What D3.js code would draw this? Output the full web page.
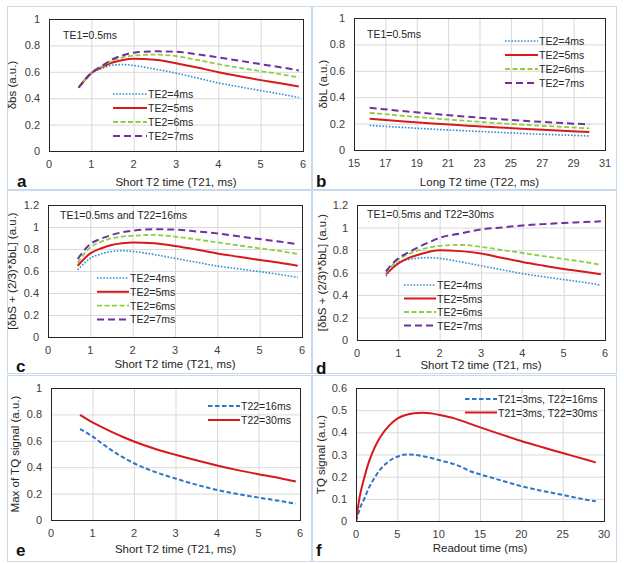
<!DOCTYPE html>
<html><head><meta charset="utf-8">
<script src="https://cdn.jsdelivr.net/npm/d3@7"></script>
<style>body{margin:0;background:#fff}svg{display:block}text{font-family:"Liberation Sans",Arial,sans-serif}</style>
</head><body><svg id="c" width="624" height="563"></svg>
<script>
// ---------- DATA ----------
const t21 = [0.7,1,1.25,1.5,1.75,2,2.5,3,3.5,4,4.5,5,5.5,5.9];
const te2Labels = ["TE2=4ms","TE2=5ms","TE2=6ms","TE2=7ms"];

const a_te4 = [0.48,0.59,0.625,0.65,0.655,0.648,0.62,0.59,0.553,0.516,0.486,0.458,0.43,0.405];
const a_te5 = [0.48,0.59,0.635,0.67,0.69,0.698,0.692,0.665,0.632,0.597,0.566,0.537,0.511,0.489];
const a_te6 = [0.48,0.59,0.64,0.685,0.71,0.723,0.73,0.719,0.69,0.658,0.63,0.605,0.58,0.557];
const a_te7 = [0.48,0.59,0.645,0.695,0.725,0.745,0.755,0.752,0.733,0.709,0.684,0.658,0.633,0.61];

const t22 = [16,18,20,22,24,26,28,30];
const b_te4 = [0.186,0.172,0.158,0.146,0.135,0.124,0.115,0.106];
const b_te5 = [0.237,0.218,0.201,0.186,0.172,0.159,0.147,0.136];
const b_te6 = [0.282,0.26,0.24,0.222,0.205,0.19,0.177,0.164];
const b_te7 = [0.32,0.296,0.274,0.254,0.236,0.22,0.206,0.194];

const c_te4 = [0.61,0.715,0.755,0.777,0.785,0.778,0.75,0.715,0.68,0.645,0.62,0.594,0.567,0.542];
const c_te5 = [0.648,0.76,0.805,0.836,0.852,0.86,0.853,0.827,0.795,0.76,0.73,0.70,0.673,0.648];
const c_te6 = [0.676,0.815,0.865,0.897,0.913,0.92,0.928,0.912,0.888,0.86,0.833,0.806,0.78,0.755];
const c_te7 = [0.709,0.845,0.893,0.927,0.952,0.967,0.98,0.976,0.96,0.942,0.916,0.89,0.866,0.842];

const d_te4 = [0.567,0.69,0.715,0.728,0.732,0.725,0.695,0.66,0.625,0.59,0.563,0.537,0.512,0.487];
const d_te5 = [0.585,0.68,0.73,0.76,0.785,0.798,0.79,0.769,0.731,0.694,0.662,0.632,0.607,0.585];
const d_te6 = [0.597,0.715,0.765,0.798,0.822,0.837,0.846,0.828,0.8,0.774,0.746,0.72,0.694,0.668];
const d_te7 = [0.611,0.727,0.78,0.828,0.87,0.908,0.947,0.982,1.0,1.018,1.03,1.04,1.048,1.055];

const e_t16 = [0.689,0.633,0.575,0.52,0.472,0.43,0.365,0.314,0.268,0.228,0.197,0.17,0.145,0.124];
const e_t30 = [0.797,0.74,0.70,0.662,0.627,0.595,0.54,0.494,0.452,0.413,0.378,0.347,0.318,0.291];

const readout = [0,0.25,0.5,1,1.5,2,2.5,3,4,5,6,7,8,9,10,12,14,16,18,20,22,24,26,28,29];
const f_t16 = [0,0.03,0.06,0.1,0.145,0.18,0.21,0.235,0.27,0.29,0.30,0.299,0.293,0.285,0.275,0.255,0.222,0.2,0.178,0.157,0.14,0.125,0.11,0.095,0.089];
const f_t30 = [0,0.065,0.12,0.195,0.26,0.31,0.35,0.382,0.43,0.462,0.478,0.486,0.488,0.486,0.479,0.462,0.436,0.41,0.385,0.361,0.339,0.317,0.296,0.275,0.264];

const xTicksT21 = [0,1,2,3,4,5,6];
const xTicksT22 = [15,17,19,21,23,25,27,29,31];
const xTicksRead = [0,5,10,15,20,25,30];
const yTicks1 = [0,0.2,0.4,0.6,0.8,1];
const yTicks12 = [0,0.2,0.4,0.6,0.8,1,1.2];
const yTicks06 = [0,0.1,0.2,0.3,0.4,0.5,0.6];

// ---------- STYLES ----------
const sty = {
  te4:{color:"#2e8fd6",w:1.6,dash:"1.6,1.6"},
  te5:{color:"#d7191c",w:2,dash:null},
  te6:{color:"#8fce3f",w:1.8,dash:"5,2.5"},
  te7:{color:"#7030a0",w:2,dash:"7,4"},
  blueDash:{color:"#2e75c6",w:2,dash:"4.5,2.5"},
  red:{color:"#d7191c",w:2,dash:null}
};

const svg = d3.select("#c");
const font = 11;

// panel frames
const frames = [[7,6,305,184],[312,6,305,184],[7,190,305,184],[312,190,305,184],[7,375,305,187],[312,375,305,187]];
frames.forEach(f=>svg.append("rect").attr("x",f[0]+0.5).attr("y",f[1]+0.5).attr("width",f[2]-1).attr("height",f[3]-1)
  .attr("fill","none").attr("stroke","#c9d9eb").attr("stroke-width",1));

function fmt(v){return (Math.round(v*10)/10).toString();}

function panel(cfg){
  const x = d3.scaleLinear().domain(cfg.xd).range([cfg.l,cfg.r]);
  const y = d3.scaleLinear().domain(cfg.yd).range([cfg.b,cfg.t]);
  const g = svg.append("g");
  g.append("g").attr("transform",`translate(0,${cfg.b})`)
   .call(d3.axisBottom(x).tickValues(cfg.xt).tickSize(-(cfg.b-cfg.t)).tickFormat(""))
   .call(s=>{s.select(".domain").remove();s.selectAll("line").attr("stroke","#d9d9d9");});
  g.append("g").attr("transform",`translate(${cfg.l},0)`)
   .call(d3.axisLeft(y).tickValues(cfg.yt).tickSize(-(cfg.r-cfg.l)).tickFormat(""))
   .call(s=>{s.select(".domain").remove();s.selectAll("line").attr("stroke","#d9d9d9");});
  g.selectAll(".xl").data(cfg.xt).join("text").attr("x",d=>x(d)).attr("y",cfg.b+17)
   .attr("text-anchor","middle").attr("font-size",font).attr("fill","#404040").text(d=>d);
  g.selectAll(".yl").data(cfg.yt).join("text").attr("x",cfg.l-9).attr("y",d=>y(d)+4)
   .attr("text-anchor","end").attr("font-size",font).attr("fill","#404040").text(fmt);
  const clipId = "clip"+cfg.id;
  svg.append("clipPath").attr("id",clipId).append("rect").attr("x",cfg.l).attr("y",cfg.t-2).attr("width",cfg.r-cfg.l).attr("height",cfg.b-cfg.t+2);
  const line = d3.line().x(d=>x(d[0])).y(d=>y(d[1])).curve(d3.curveMonotoneX);
  cfg.series.forEach(s=>{
    const pts = cfg.xs.map((xv,i)=>[xv,s.v[i]]);
    g.append("path").attr("d",line(pts)).attr("fill","none").attr("stroke",s.st.color)
     .attr("stroke-width",s.st.w).attr("stroke-dasharray",s.st.dash).attr("clip-path",`url(#${clipId})`);
  });
  g.append("rect").attr("x",cfg.l+0.5).attr("y",cfg.t+0.5).attr("width",cfg.r-cfg.l).attr("height",cfg.b-cfg.t)
   .attr("fill","none").attr("stroke","#262626").attr("stroke-width",1);
  cfg.series.forEach((s,i)=>{
    const ly = cfg.leg.y + i*cfg.leg.dy;
    g.append("line").attr("x1",cfg.leg.x1).attr("x2",cfg.leg.x2).attr("y1",ly).attr("y2",ly)
     .attr("stroke",s.st.color).attr("stroke-width",s.st.w).attr("stroke-dasharray",s.st.dash);
    g.append("text").attr("x",cfg.leg.x2+1).attr("y",ly+4).attr("font-size",10.5).attr("fill","#262626").text(s.name);
  });
  if(cfg.note) g.append("text").attr("x",cfg.note[0]).attr("y",cfg.note[1]).attr("font-size",10.5).attr("fill","#262626").text(cfg.note[2]);
  g.append("text").attr("x",(cfg.l+cfg.r)/2).attr("y",cfg.xty).attr("text-anchor","middle").attr("font-size",11.5).attr("fill","#262626").text(cfg.xtitle);
  g.append("text").attr("transform",`translate(${cfg.ytx},${(cfg.t+cfg.b)/2}) rotate(-90)`).attr("text-anchor","middle")
   .attr("font-size",11.5).attr("fill","#262626").text(cfg.ytitle);
  g.append("text").attr("x",cfg.lab[0]).attr("y",cfg.lab[1]).attr("font-size",17).attr("font-weight","bold").attr("fill","#111").text(cfg.lab[2]);
}

panel({id:"a",l:49,r:303,t:19,b:151,xd:[0,6],yd:[0,1],xt:xTicksT21,yt:yTicks1,xs:t21,
  series:[{name:te2Labels[0],v:a_te4,st:sty.te4},{name:te2Labels[1],v:a_te5,st:sty.te5},{name:te2Labels[2],v:a_te6,st:sty.te6},{name:te2Labels[3],v:a_te7,st:sty.te7}],
  leg:{x1:113,x2:147,y:94,dy:14},note:[63,39,"TE1=0.5ms"],xtitle:"Short T2 time  (T21, ms)",xty:186,ytitle:"δbs (a.u.)",ytx:16,lab:[17,187,"a"]});

panel({id:"b",l:354,r:605,t:18,b:150,xd:[15,31],yd:[0,1],xt:xTicksT22,yt:yTicks1,xs:t22,
  series:[{name:te2Labels[0],v:b_te4,st:sty.te4},{name:te2Labels[1],v:b_te5,st:sty.te5},{name:te2Labels[2],v:b_te6,st:sty.te6},{name:te2Labels[3],v:b_te7,st:sty.te7}],
  leg:{x1:505,x2:538,y:41,dy:14},note:[367,38,"TE1=0.5ms"],xtitle:"Long T2 time (T22, ms)",xty:186,ytitle:"δbL (a.u.)",ytx:327,lab:[316,187,"b"]});

panel({id:"c",l:48,r:302,t:205,b:337,xd:[0,6],yd:[0,1.2],xt:xTicksT21,yt:yTicks12,xs:t21,
  series:[{name:te2Labels[0],v:c_te4,st:sty.te4},{name:te2Labels[1],v:c_te5,st:sty.te5},{name:te2Labels[2],v:c_te6,st:sty.te6},{name:te2Labels[3],v:c_te7,st:sty.te7}],
  leg:{x1:97,x2:129,y:278,dy:13.8},note:[60,219,"TE1=0.5ms and T22=16ms"],xtitle:"Short T2 time (T21, ms)",xty:368,ytitle:"[δbS + (2/3)*δbL] (a.u.)",ytx:16,lab:[16,372,"c"]});

panel({id:"d",l:357,r:605,t:205,b:340,xd:[0,6],yd:[0,1.2],xt:xTicksT21,yt:yTicks12,xs:t21,
  series:[{name:te2Labels[0],v:d_te4,st:sty.te4},{name:te2Labels[1],v:d_te5,st:sty.te5},{name:te2Labels[2],v:d_te6,st:sty.te6},{name:te2Labels[3],v:d_te7,st:sty.te7}],
  leg:{x1:404,x2:436,y:285,dy:13.5},note:[367,218,"TE1=0.5ms and T22=30ms"],xtitle:"Short T2 time (T21, ms)",xty:369,ytitle:"[δbS + (2/3)*δbL] (a.u.)",ytx:326,lab:[316,374,"d"]});

panel({id:"e",l:51,r:300,t:388,b:520,xd:[0,6],yd:[0,1],xt:xTicksT21,yt:yTicks1,xs:t21,
  series:[{name:"T22=16ms",v:e_t16,st:sty.blueDash},{name:"T22=30ms",v:e_t30,st:sty.red}],
  leg:{x1:208,x2:240,y:406,dy:14},note:null,xtitle:"Short T2 time (T21, ms)",xty:553,ytitle:"Max of TQ signal (a.u.)",ytx:19,lab:[16,556,"e"]});

panel({id:"f",l:356,r:604,t:388,b:521,xd:[0,30],yd:[0,0.6],xt:xTicksRead,yt:yTicks06,xs:readout,
  series:[{name:"T21=3ms, T22=16ms",v:f_t16,st:sty.blueDash},{name:"T21=3ms, T22=30ms",v:f_t30,st:sty.red}],
  leg:{x1:465,x2:497,y:399,dy:13.5},note:null,xtitle:"Readout time (ms)",xty:552,ytitle:"TQ signal (a.u.)",ytx:325,lab:[316,556,"f"]});
</script></body></html>
